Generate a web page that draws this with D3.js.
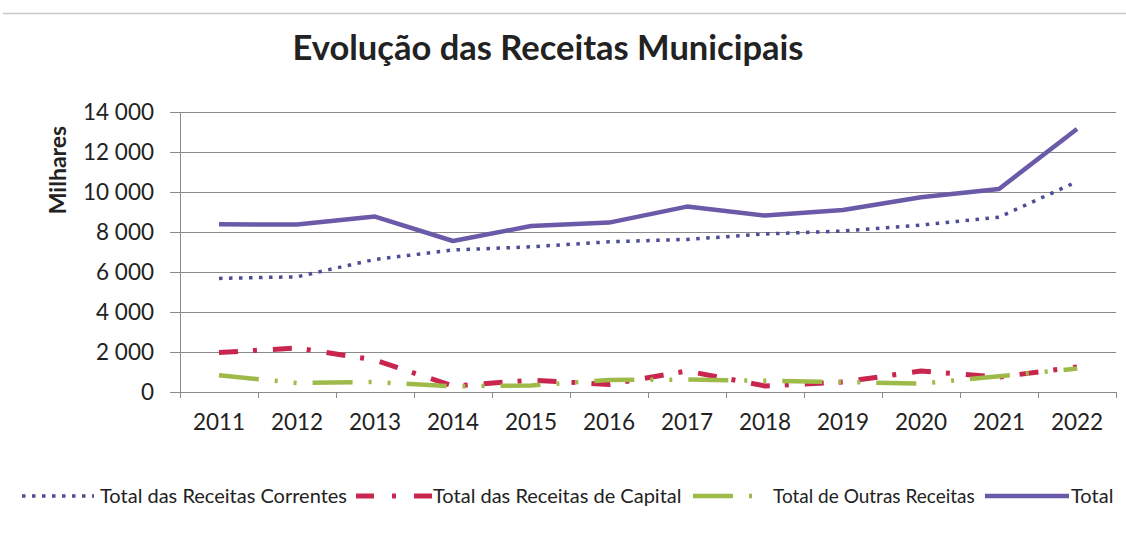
<!DOCTYPE html>
<html>
<head>
<meta charset="utf-8">
<script src="https://cdn.jsdelivr.net/npm/d3@7"></script>
<style>
  body { margin: 0; background: #fff; }
  text { font-family: Lato, "Open Sans", sans-serif; fill: #222; }
</style>
</head>
<body>
<div id="chart"></div>
<script>
// Data (thousands of euros)
var years = ["2011", "2012", "2013", "2014", "2015", "2016", "2017", "2018", "2019", "2020", "2021", "2022"];
var correntes = [5680, 5760, 6630, 7100, 7260, 7510, 7630, 7900, 8050, 8350, 8740, 10520];
var capital = [1970, 2200, 1600, 300, 590, 380, 1050, 300, 500, 1050, 750, 1250];
var outras = [840, 450, 500, 280, 330, 600, 620, 560, 500, 420, 790, 1170];
var total = [8390, 8370, 8770, 7550, 8300, 8470, 9270, 8820, 9100, 9740, 10150, 13150];
var yTicks = [0, 2000, 4000, 6000, 8000, 10000, 12000, 14000];

var svgWidth = 1126;
var svgHeight = 542;

var chartMargin = { top: 112, right: 10, bottom: 150, left: 180 };
var chartWidth = 1116 - chartMargin.left;
var chartHeight = 392 - chartMargin.top;

var svg = d3.select("#chart")
    .append("svg")
    .attr("width", svgWidth)
    .attr("height", svgHeight);

// thin grey rule at the top
svg.append("line")
    .attr("x1", 3).attr("x2", svgWidth)
    .attr("y1", 13.5).attr("y2", 13.5)
    .attr("stroke", "#c8c8c8")
    .attr("stroke-width", 1.5);

// title
svg.append("text")
    .attr("x", 548)
    .attr("y", 60)
    .attr("text-anchor", "middle")
    .attr("font-size", "34.5px")
    .attr("font-weight", "bold")
    .text("Evolução das Receitas Municipais");

var chartGroup = svg.append("g")
    .attr("transform", `translate(${chartMargin.left}, ${chartMargin.top})`);

var xScale = d3.scaleBand()
    .domain(years)
    .range([0, chartWidth])
    .padding(0);

var yScale = d3.scaleLinear()
    .domain([0, 14000])
    .range([chartHeight, 0]);

var fmt = d3.formatLocale({ decimal: ",", thousands: " ", grouping: [3], currency: ["", ""] }).format(",");

// gridlines
chartGroup.selectAll("line.grid")
    .data(yTicks)
    .enter()
    .append("line")
    .classed("grid", true)
    .attr("x1", 0)
    .attr("x2", chartWidth)
    .attr("y1", d => Math.round(yScale(d)) + 0.5)
    .attr("y2", d => Math.round(yScale(d)) + 0.5)
    .attr("stroke", "#8a8a8a")
    .attr("stroke-width", 1);

// y axis
var yAxis = d3.axisLeft(yScale)
    .tickValues(yTicks)
    .tickFormat(fmt)
    .tickSize(10)
    .tickPadding(16);

var yG = chartGroup.append("g").call(yAxis);
yG.selectAll("path, line").attr("stroke", "#8a8a8a");
yG.selectAll("text")
    .attr("font-size", "22.5px")
    .attr("fill", "#222")
    .attr("font-family", "Lato, sans-serif");

// x axis (labels centred in bands, ticks at band edges)
var xAxis = d3.axisBottom(xScale).tickSize(0).tickPadding(22);
var xG = chartGroup.append("g")
    .attr("transform", `translate(0, ${chartHeight})`)
    .call(xAxis);
xG.select("path").attr("stroke", "#8a8a8a");
xG.selectAll("text")
    .attr("font-size", "22.5px")
    .attr("fill", "#222")
    .attr("font-family", "Lato, sans-serif");

var edges = years.map(d => xScale(d)).concat([chartWidth]);
chartGroup.selectAll("line.xtick")
    .data(edges)
    .enter()
    .append("line")
    .classed("xtick", true)
    .attr("x1", d => Math.round(d) + 0.5)
    .attr("x2", d => Math.round(d) + 0.5)
    .attr("y1", chartHeight)
    .attr("y2", chartHeight + 6)
    .attr("stroke", "#8a8a8a");

// y axis title
svg.append("text")
    .attr("transform", "translate(66, 170) rotate(-90)")
    .attr("text-anchor", "middle")
    .attr("font-size", "23px")
    .attr("font-weight", "bold")
    .text("Milhares");

// series
var series = [
    { name: "Total das Receitas Correntes", values: correntes, color: "#4d4c96", width: 3.5, dash: "3.5,6.5", legendDash: "3.5,6.5" },
    { name: "Total das Receitas de Capital", values: capital, color: "#c9264f", width: 5, dash: "19,15,4,16", legendDash: "18,18,4,18" },
    { name: "Total de Outras Receitas", values: outras, color: "#9ebb4a", width: 4.5, dash: "40,16,3,16,3,16", legendDash: "40,16,3,40" },
    { name: "Total", values: total, color: "#6a5aa8", width: 4.5, dash: null, legendDash: null }
];

var line = d3.line()
    .x((d, i) => xScale(years[i]) + xScale.bandwidth() / 2)
    .y(d => yScale(d));

chartGroup.selectAll("path.series")
    .data(series)
    .enter()
    .append("path")
    .classed("series", true)
    .attr("d", d => line(d.values))
    .attr("fill", "none")
    .attr("stroke", d => d.color)
    .attr("stroke-width", d => d.width)
    .attr("stroke-dasharray", d => d.dash)
    .attr("stroke-linejoin", "round");

// legend
var legendItems = [
    { x: 22, len: 72, tx: 100, size: 20 },
    { x: 356, len: 76, tx: 433, size: 20 },
    { x: 693, len: 60, tx: 773, size: 19 },
    { x: 985, len: 84, tx: 1071, size: 20 }
];
var legend = svg.append("g").attr("transform", "translate(0, 496)");
var li = legend.selectAll("g")
    .data(series)
    .enter()
    .append("g");
li.append("line")
    .attr("x1", (d, i) => legendItems[i].x)
    .attr("x2", (d, i) => legendItems[i].x + legendItems[i].len)
    .attr("y1", 0).attr("y2", 0)
    .attr("stroke", d => d.color)
    .attr("stroke-width", d => d.width)
    .attr("stroke-dasharray", d => d.legendDash);
li.append("text")
    .attr("x", (d, i) => legendItems[i].tx)
    .attr("y", 7)
    .attr("font-size", (d, i) => legendItems[i].size + "px")
    .text(d => d.name);
</script>
</body>
</html>
